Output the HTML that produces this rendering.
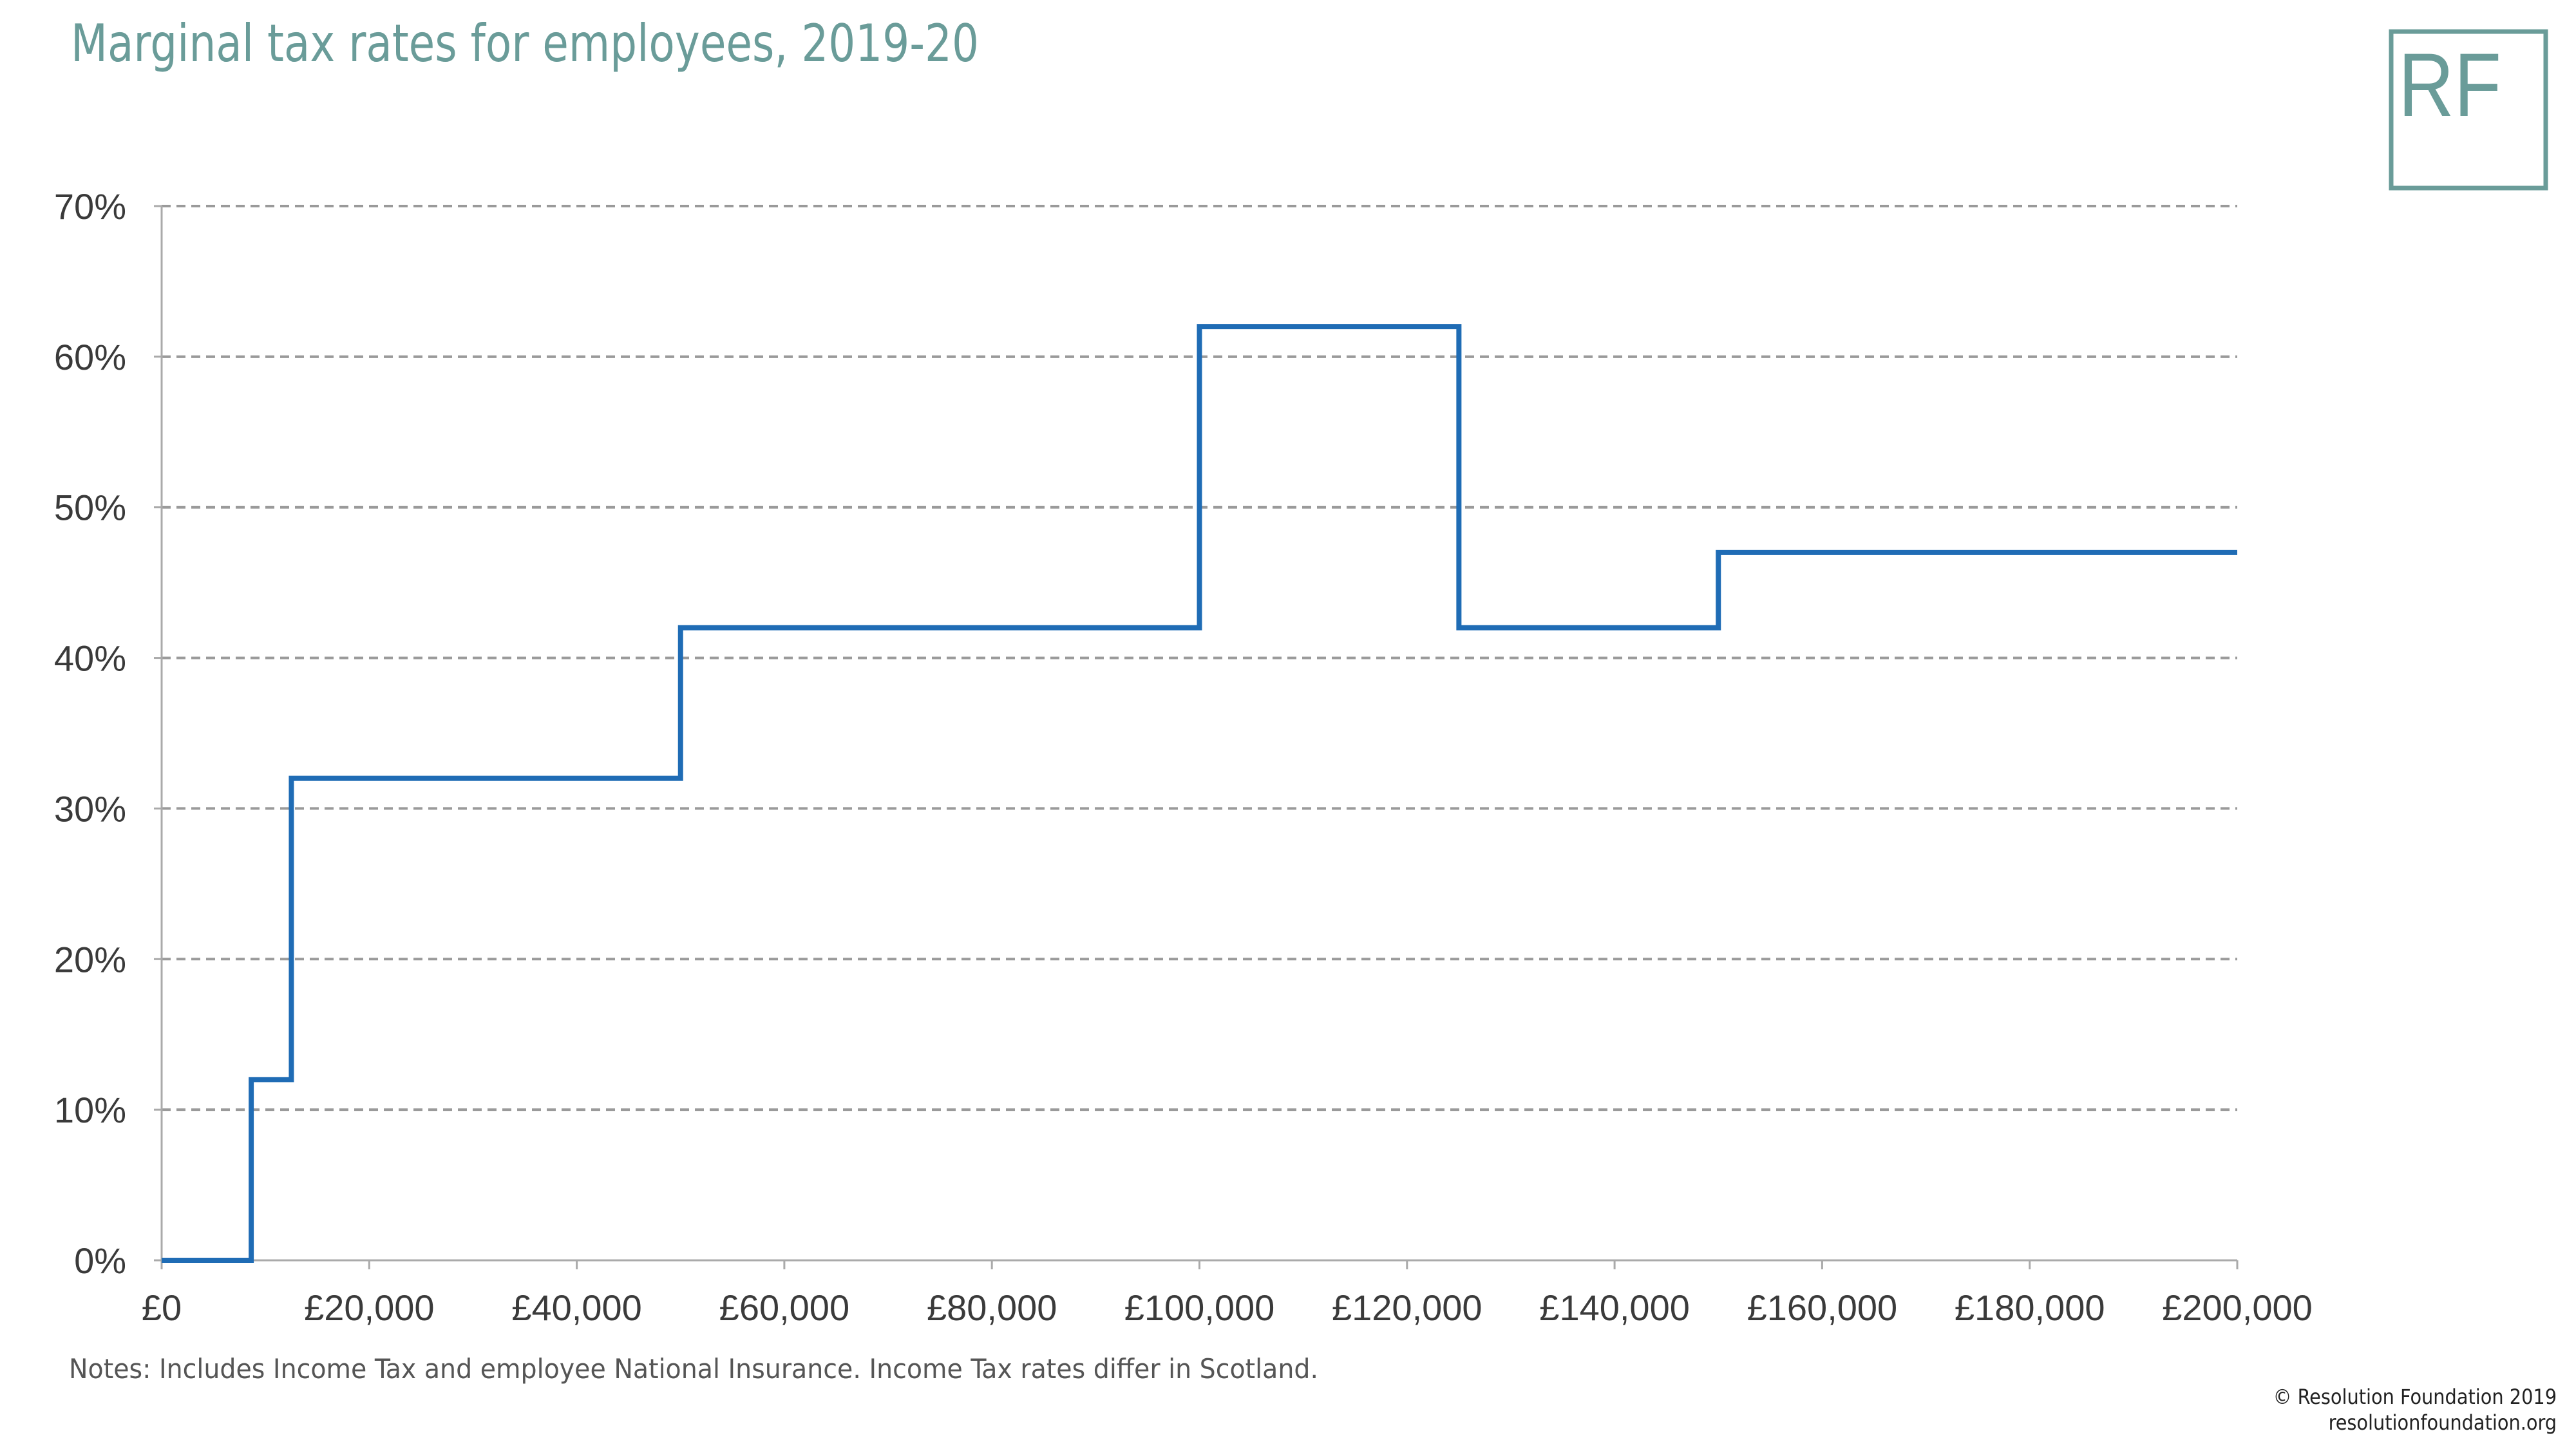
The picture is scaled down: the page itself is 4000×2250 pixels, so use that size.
<!DOCTYPE html>
<html><head><meta charset="utf-8"><style>html,body{margin:0;padding:0;background:#fff}svg{display:block}</style></head>
<body>
<svg id="chart" width="4000" height="2250" viewBox="0 0 4000 2250" xmlns="http://www.w3.org/2000/svg" font-family="'DejaVu Sans Condensed','Liberation Sans',sans-serif">
<text x="110" y="95" font-size="80" fill="#6a9c99" textLength="1410" lengthAdjust="spacingAndGlyphs">Marginal tax rates for employees, 2019-20</text>
<g>
<rect x="3713" y="49" width="240" height="243" fill="none" stroke="#6a9c99" stroke-width="7"/>
<text x="3724" y="180" font-size="140" fill="#6a9c99" font-family="'Liberation Sans',sans-serif" textLength="160" lengthAdjust="spacingAndGlyphs">RF</text>
</g>
<g id="grid"></g>
<g id="axes"></g>
<g id="series"></g>
<text x="107" y="2140" font-size="42" fill="#555" textLength="1940" lengthAdjust="spacingAndGlyphs">Notes: Includes Income Tax and employee National Insurance. Income Tax rates differ in Scotland.</text>
<text x="3970" y="2180" font-size="32" fill="#222" text-anchor="end">© Resolution Foundation 2019</text>
<text x="3970" y="2220" font-size="32" fill="#222" text-anchor="end">resolutionfoundation.org</text>
</svg>
<script>
const yTicks=[0,10,20,30,40,50,60,70];
const xTicks=[0,20000,40000,60000,80000,100000,120000,140000,160000,180000,200000];
const xTickLabels=["£0","£20,000","£40,000","£60,000","£80,000","£100,000","£120,000","£140,000","£160,000","£180,000","£200,000"];
const stepStarts=[0,8632,12500,50000,100000,125000,150000];
const stepRates=[0,12,32,42,62,42,47];
const xMax=200000;
const L=251,R=3474,T=320,B=1957;
const sx=v=>L+(v/xMax)*(R-L);
const sy=v=>B-(v/70)*(B-T);
const NS="http://www.w3.org/2000/svg";
function mk(tag,attrs,parent){const e=document.createElementNS(NS,tag);for(const k in attrs)e.setAttribute(k,attrs[k]);parent.appendChild(e);return e;}
const grid=document.getElementById('grid'),axes=document.getElementById('axes'),series=document.getElementById('series');
const LF="'Liberation Sans',sans-serif";
yTicks.forEach(t=>{
  if(t>0){const g=mk('line',{x1:L,x2:R,y1:sy(t),y2:sy(t),stroke:'#9a9a9a','stroke-width':4,'stroke-dasharray':'14 9'},grid);
  
  }
  const tk=mk('line',{x1:L-12,x2:L,y1:sy(t),y2:sy(t),stroke:'#aaa','stroke-width':3},axes);
  
  
  const lb=mk('text',{x:196,y:sy(t)+20,'font-size':56,fill:'#3a3a3a','text-anchor':'end','font-family':LF},axes);
  lb.textContent=t+'%';
  
  
});
const ya=mk('line',{x1:L,x2:L,y1:T,y2:B,stroke:'#aaa','stroke-width':3},axes);


const xa=mk('line',{x1:L,x2:R,y1:B,y2:B,stroke:'#aaa','stroke-width':3},axes);


xTicks.forEach((t,i)=>{
  const tk=mk('line',{x1:sx(t),x2:sx(t),y1:B,y2:B+14,stroke:'#aaa','stroke-width':3},axes);
  
  
  const lb=mk('text',{x:sx(t),y:2050,'font-size':56,fill:'#3a3a3a','text-anchor':'middle','font-family':LF},axes);
  lb.textContent=xTickLabels[i];
  
  
});
let d='';
stepStarts.forEach((s,i)=>{
  const e=i<stepStarts.length-1?stepStarts[i+1]:xMax;
  d+=(i===0?'M':'L')+sx(s)+' '+sy(stepRates[i])+' L'+sx(e)+' '+sy(stepRates[i])+' ';
});
const p=mk('path',{d:d,fill:'none',stroke:'#1f6cb5','stroke-width':8,'stroke-linejoin':'miter'},series);


</script>
</body></html>
